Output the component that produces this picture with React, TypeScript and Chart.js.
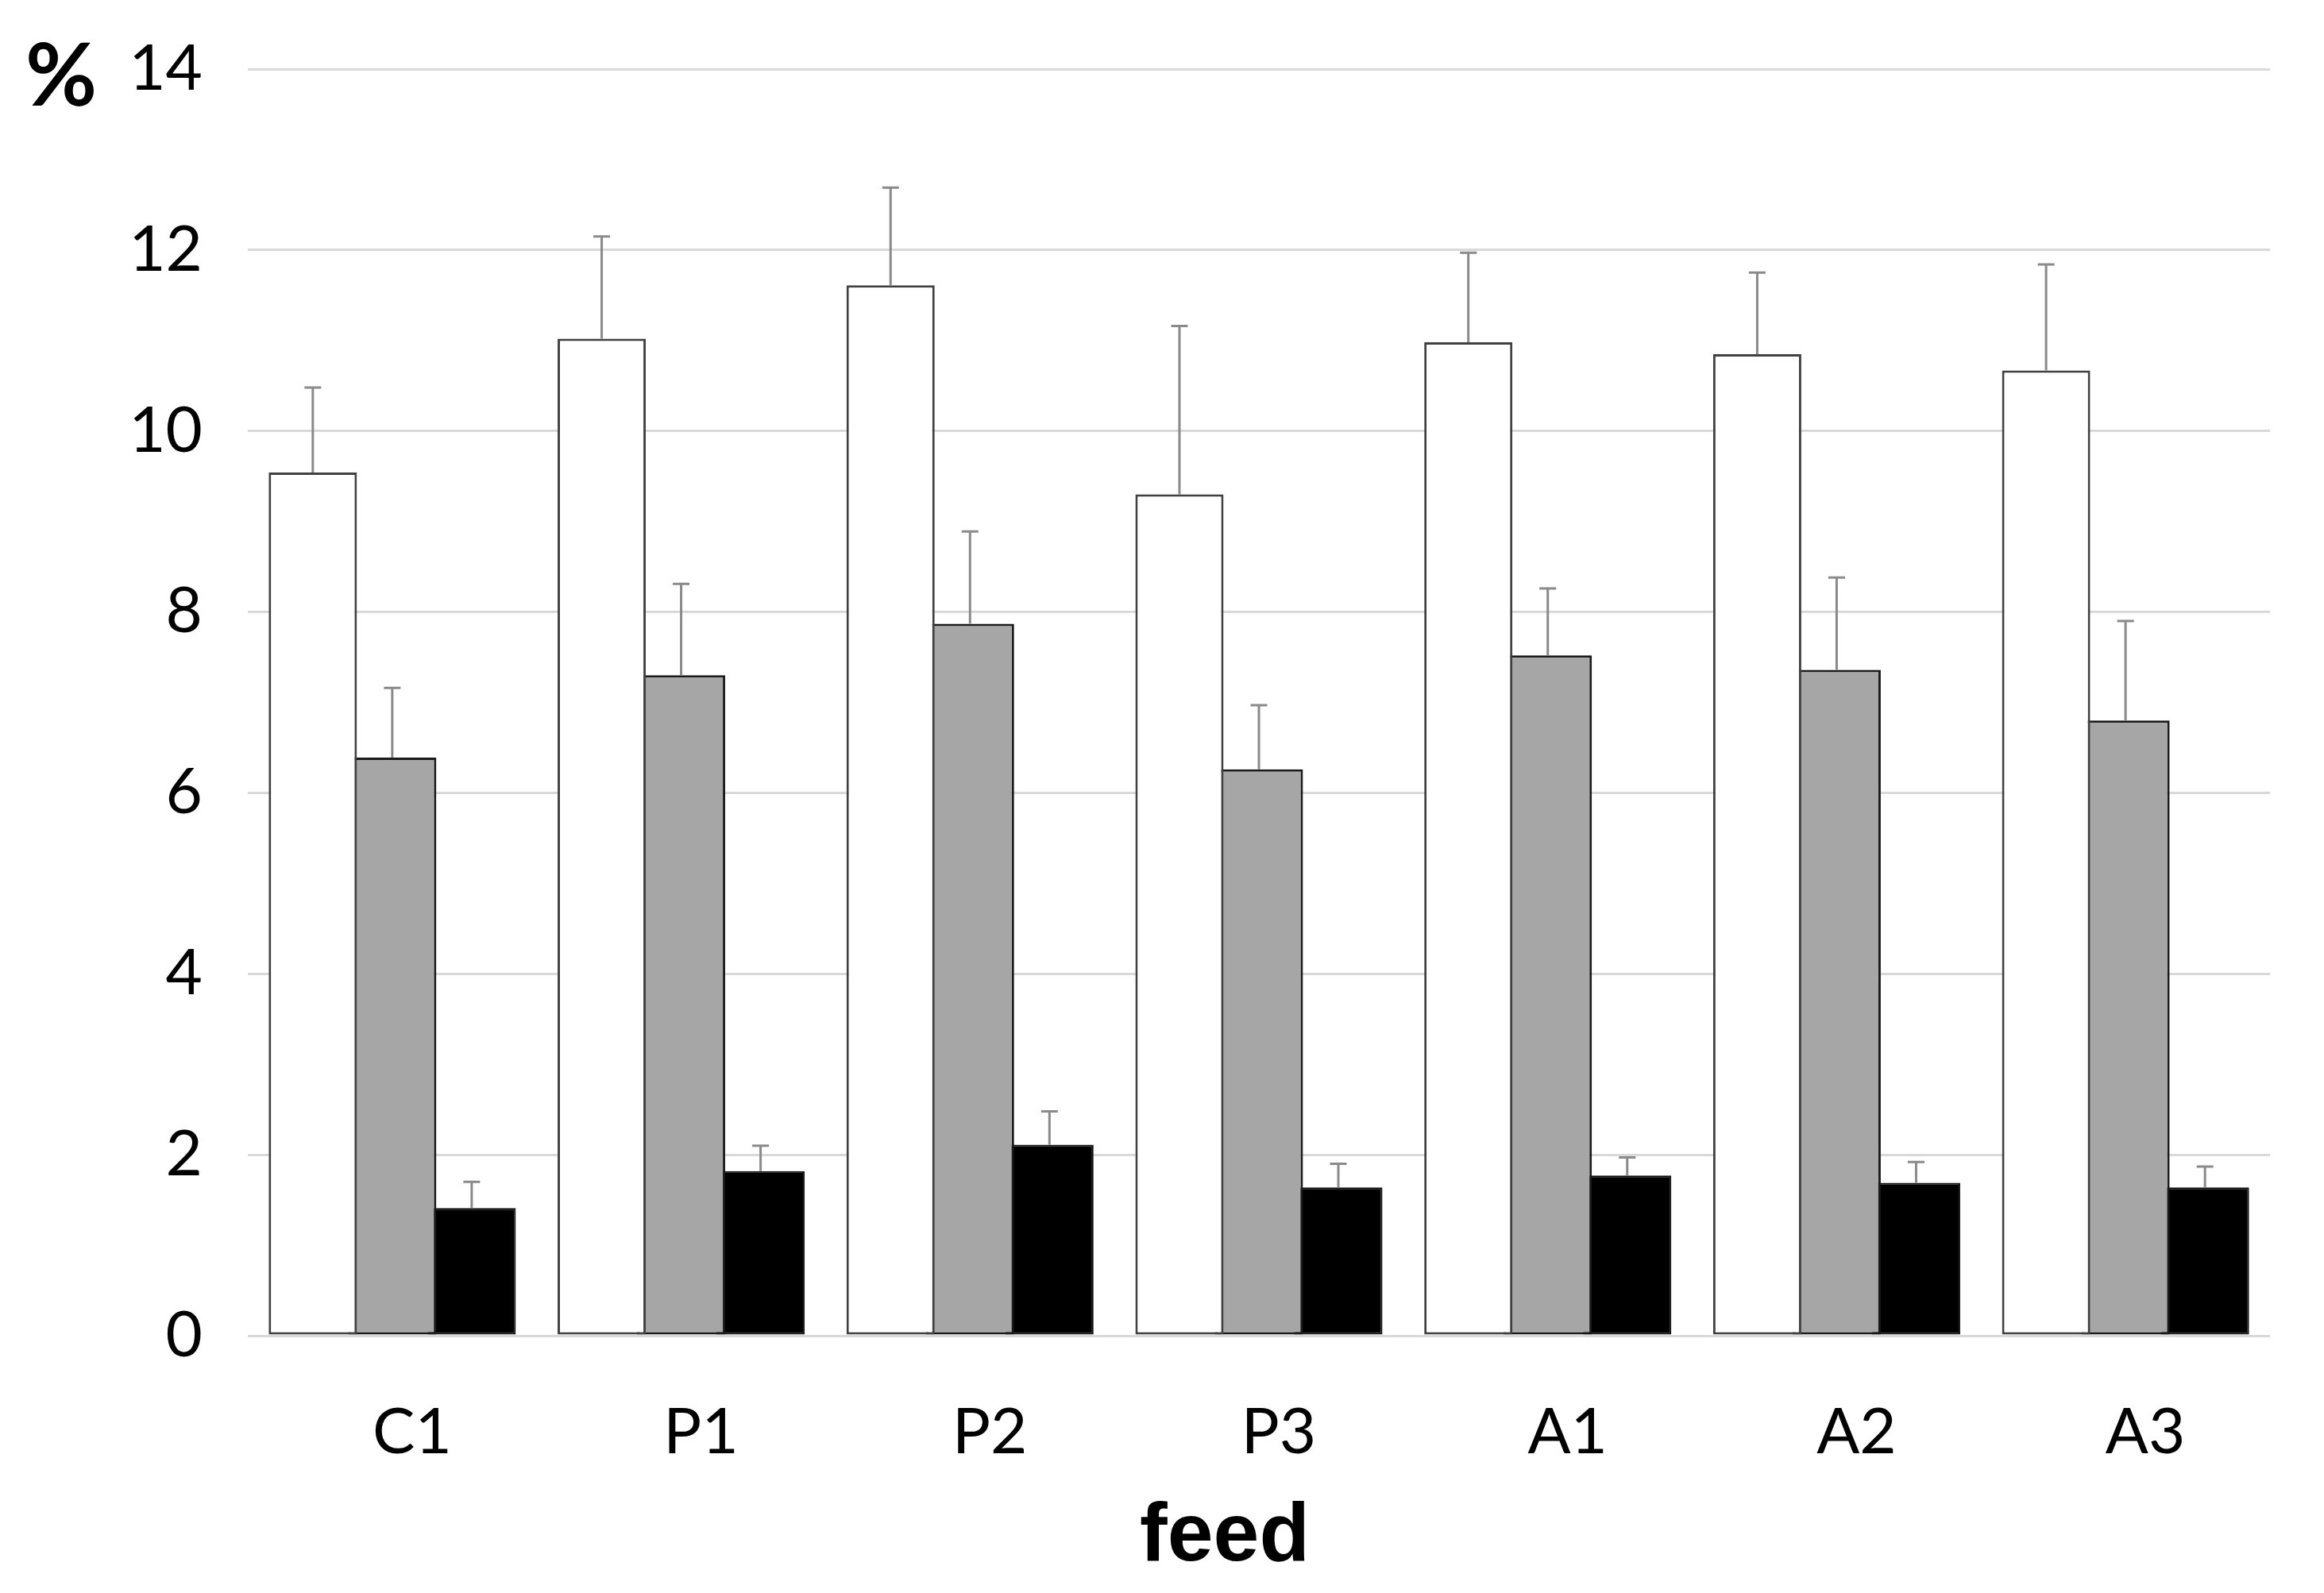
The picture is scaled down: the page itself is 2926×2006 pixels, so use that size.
import React, { useEffect, useRef } from 'react';
import { Chart, registerables } from 'chart.js';

Chart.register(...registerables);

// ---- data ----
const categories = ['C1', 'P1', 'P2', 'P3', 'A1', 'A2', 'A3'];
const seriesNames = ['Series 1', 'Series 2', 'Series 3'];

const whiteValues = [9.54, 11.02, 11.61, 9.30, 10.98, 10.85, 10.67];
const whiteErrors = [0.94, 1.13, 1.08, 1.86, 0.99, 0.90, 1.17];

const grayValues = [6.39, 7.30, 7.87, 6.26, 7.52, 7.36, 6.80];
const grayErrors = [0.77, 1.01, 1.02, 0.71, 0.74, 1.02, 1.10];

const blackValues = [1.41, 1.82, 2.11, 1.64, 1.77, 1.69, 1.64];
const blackErrors = [0.29, 0.28, 0.37, 0.26, 0.20, 0.23, 0.23];

const yMin = 0;
const yMax = 14;
const yStep = 2;

const yAxisTitle = '%';
const xAxisTitle = 'feed';

// ---- plugins ----
const errorBarPlugin = {
  id: 'errorBars',
  afterDatasetsDraw(chart: any) {
    const { ctx } = chart;
    const yScale = chart.scales.y;
    chart.data.datasets.forEach((ds: any, di: number) => {
      const meta = chart.getDatasetMeta(di);
      if (meta.hidden) return;
      meta.data.forEach((bar: any, i: number) => {
        const v = ds.data[i];
        const e = ds.errors[i];
        const yBase = yScale.getPixelForValue(v);
        const yTop = yScale.getPixelForValue(v + e);
        ctx.save();
        ctx.strokeStyle = '#8a8a8a';
        ctx.lineWidth = 3;
        ctx.beginPath();
        ctx.moveTo(bar.x, yBase);
        ctx.lineTo(bar.x, yTop);
        ctx.moveTo(bar.x - 10.5, yTop);
        ctx.lineTo(bar.x + 10.5, yTop);
        ctx.stroke();
        ctx.restore();
      });
    });
  },
};

const titlesPlugin = {
  id: 'axisTitles',
  afterDraw(chart: any) {
    const { ctx } = chart;
    ctx.save();
    ctx.fillStyle = '#000000';
    ctx.textBaseline = 'alphabetic';
    ctx.textAlign = 'left';
    ctx.font = 'bold 110px Lato';
    ctx.fillText(yAxisTitle, 32, 133);
    ctx.textAlign = 'center';
    ctx.font = 'bold 104px "Liberation Sans"';
    ctx.fillText(xAxisTitle, 1542, 1965);
    ctx.restore();
  },
};

export default function App() {
  const canvasRef = useRef<HTMLCanvasElement | null>(null);

  useEffect(() => {
    if (!canvasRef.current) return;
    const barCommon = {
      categoryPercentage: 0.825,
      barPercentage: 1.11,
      borderSkipped: false,
    };
    const chart = new Chart(canvasRef.current, {
      type: 'bar',
      data: {
        labels: categories,
        datasets: [
          {
            label: seriesNames[0],
            data: whiteValues,
            errors: whiteErrors,
            backgroundColor: '#ffffff',
            borderColor: '#404040',
            borderWidth: 3,
            ...barCommon,
          } as any,
          {
            label: seriesNames[1],
            data: grayValues,
            errors: grayErrors,
            backgroundColor: '#a6a6a6',
            borderColor: '#1a1a1a',
            borderWidth: 3,
            ...barCommon,
          } as any,
          {
            label: seriesNames[2],
            data: blackValues,
            errors: blackErrors,
            backgroundColor: '#000000',
            borderColor: '#111111',
            borderWidth: 2,
            ...barCommon,
          } as any,
        ],
      },
      options: {
        animation: false,
        responsive: true,
        maintainAspectRatio: false,
        layout: { padding: { top: 87, right: 68, left: 0, bottom: 0 } },
        plugins: {
          legend: { display: false },
          tooltip: { enabled: false },
          title: { display: false },
        },
        scales: {
          x: {
            type: 'category',
            offset: true,
            grid: { display: false },
            border: { display: false },
            ticks: {
              color: '#000000',
              font: { family: 'Lato', size: 80 },
              padding: 66,
              labelOffset: 25,
              maxRotation: 0,
              autoSkip: false,
            },
            afterFit: (scale: any) => {
              scale.height = 324;
              scale.paddingLeft = 0;
              scale.paddingRight = 0;
            },
          },
          y: {
            min: yMin,
            max: yMax,
            grid: { color: '#d9d9d9', lineWidth: 3, drawTicks: false },
            border: { display: false },
            ticks: {
              stepSize: yStep,
              color: '#000000',
              font: { family: 'Lato', size: 80 },
              padding: 57,
            },
            afterFit: (scale: any) => {
              scale.width = 312;
              scale.paddingTop = 0;
              scale.paddingBottom = 0;
            },
          },
        },
      },
      plugins: [errorBarPlugin, titlesPlugin],
    });
    return () => chart.destroy();
  }, []);

  return (
    <div style={{ position: 'absolute', left: 0, top: 0, width: 2926, height: 2006, background: '#ffffff' }}>
      <canvas ref={canvasRef} />
    </div>
  );
}
